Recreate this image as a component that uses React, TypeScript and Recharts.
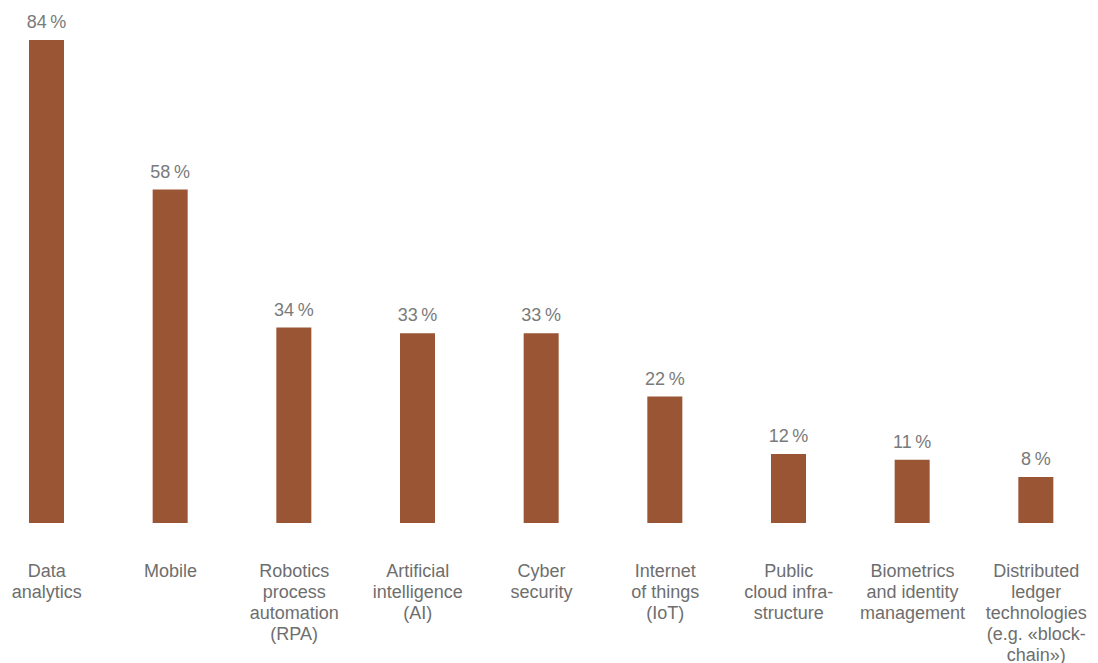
import { BarChart, Bar, XAxis, YAxis, LabelList } from "recharts";

const categories = [
  "Data analytics",
  "Mobile",
  "Robotics process automation (RPA)",
  "Artificial intelligence (AI)",
  "Cyber security",
  "Internet of things (IoT)",
  "Public cloud infrastructure",
  "Biometrics and identity management",
  "Distributed ledger technologies (e.g. «blockchain»)",
];

const tickLines = [
  ["Data", "analytics"],
  ["Mobile"],
  ["Robotics", "process", "automation", "(RPA)"],
  ["Artificial", "intelligence", "(AI)"],
  ["Cyber", "security"],
  ["Internet", "of things", "(IoT)"],
  ["Public", "cloud infra-", "structure"],
  ["Biometrics", "and identity", "management"],
  ["Distributed", "ledger", "technologies", "(e.g. «block-", "chain»)"],
];

const values = [84, 58, 34, 33, 33, 22, 12, 11, 8];

const data = categories.map((name, i) => ({ name, value: values[i] }));

const FONT = "'Liberation Sans', Arial, sans-serif";

function CategoryTick(props: any) {
  const { x, y, payload } = props;
  const lines = tickLines[payload.index] || [payload.value];
  return (
    <text
      x={x}
      y={y + 46}
      textAnchor="middle"
      fill="#6e6e6e"
      fontSize={18}
      fontFamily={FONT}
    >
      {lines.map((l, i) => (
        <tspan key={i} x={x} dy={i === 0 ? 0 : 21}>
          {l}
        </tspan>
      ))}
    </text>
  );
}

export default function App() {
  return (
    <div style={{ position: "absolute", left: -15, top: 0 }}>
      <BarChart
        width={1113}
        height={663}
        data={data}
        margin={{ top: 40, right: 0, bottom: 0, left: 0 }}
      >
        <XAxis
          dataKey="name"
          axisLine={false}
          tickLine={false}
          interval={0}
          height={140}
          tick={<CategoryTick />}
        />
        <YAxis hide domain={[0, 84]} />
        <Bar
          dataKey="value"
          fill="#9a5535"
          barSize={35}
          isAnimationActive={false}
        >
          <LabelList
            dataKey="value"
            position="top"
            offset={12}
            formatter={(v: any) => `${v}\u2009%`}
            fill="#7a7a7a"
            fontSize={18}
            fontFamily={FONT}
          />
        </Bar>
      </BarChart>
    </div>
  );
}
